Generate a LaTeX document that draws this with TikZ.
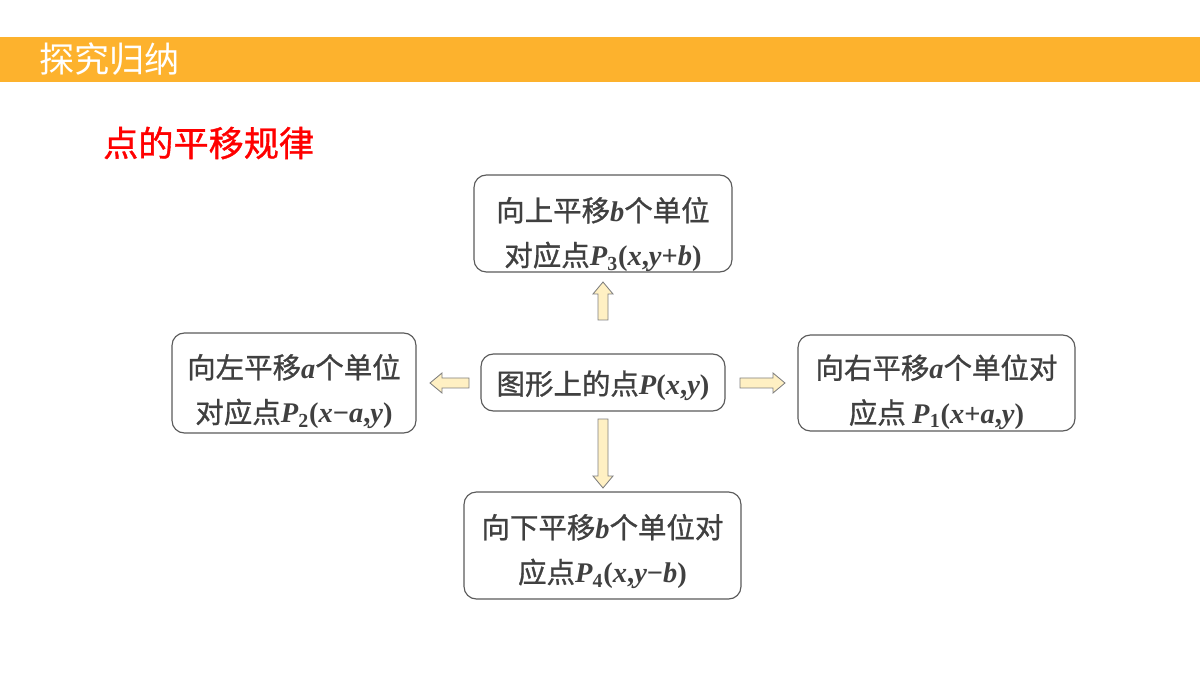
\documentclass[tikz,border=0pt]{standalone}
\usepackage{fontspec}
\setmainfont{Liberation Serif}
\newfontfamily\cjk{Noto Sans CJK SC}
\newfontfamily\cjkb[FakeBold=1]{Noto Sans CJK SC}
\newcommand{\latn}[1]{{\normalfont\bfseries#1}}
\newcommand{\iv}[1]{\textit{#1}}
% lines of a box, lowered by #1 without changing the box size
\newcommand{\boxlines}[2]{\raisebox{#1}[\height][\depth]{\begin{tabular}{@{}c@{}}#2\end{tabular}}}
\begin{document}
\begin{tikzpicture}[x=0.02cm,y=-0.02cm,
 box/.style={draw=boxline,line width=0.65pt,rounded corners=7pt,fill=white,inner sep=0pt,
  font=\cjkb\fontsize{16.2}{25.5}\selectfont,text=textgray},
 fat/.style={draw=arrowline,line width=0.5pt,fill=arrowfill,line join=miter}]
\definecolor{bar}{RGB}{253,178,45}
\definecolor{boxline}{RGB}{90,90,90}
\definecolor{textgray}{RGB}{64,64,64}
\definecolor{arrowfill}{RGB}{255,240,195}
\definecolor{arrowline}{RGB}{128,128,128}
\useasboundingbox (0,0) rectangle (1200,675);
\fill[bar] (0,37) rectangle (1200,82);
\node[anchor=west,text=white,font=\cjk\fontsize{20}{24}\selectfont] (head) at (33,59) {探究归纳};
\node[anchor=west,text=red,font=\cjkb\fontsize{20}{24}\selectfont] (title) at (97,143) {点的平移规律};
% the point and its four translations
\node[box,minimum width=4.88cm,minimum height=1.14cm] (p) at (603,382.5)
 {\boxlines{-0.06cm}{图形上的点\latn{\iv{P}(\iv{x},\iv{y})}}};
\node[box,minimum width=5.16cm,minimum height=1.94cm] (up) at (603,223.5)
 {\boxlines{-0.22cm}{向上平移\latn{\iv{b}}个单位\\对应点\latn{\iv{P}\textsubscript{3}(\iv{x},\iv{y}+\iv{b})}}};
\node[box,minimum width=4.88cm,minimum height=2cm] (left) at (294,383)
 {\boxlines{-0.17cm}{向左平移\latn{\iv{a}}个单位\\对应点\latn{\iv{P}\textsubscript{2}(\iv{x}−\iv{a},\iv{y})}}};
\node[box,minimum width=5.54cm,minimum height=1.92cm] (right) at (936.5,383)
 {\boxlines{-0.18cm}{向右平移\latn{\iv{a}}个单位对\\应点 \latn{\iv{P}\textsubscript{1}(\iv{x}+\iv{a},\iv{y})}}};
\node[box,minimum width=5.54cm,minimum height=2.14cm] (down) at (602.5,545.5)
 {\boxlines{-0.12cm}{向下平移\latn{\iv{b}}个单位对\\应点\latn{\iv{P}\textsubscript{4}(\iv{x},\iv{y}−\iv{b})}}};
% block arrows: tail x/y, direction, length
\foreach \tx/\ty/\dir/\len in {603/320/90/38,603/419/-90/69,469/383/180/39,740/383/0/45}{
 \draw[fat,shift={(\tx,\ty)},rotate=\dir] (0,-5)--(\len-12,-5)--(\len-12,-10)--(\len,0)
  --(\len-12,10)--(\len-12,5)--(0,5)--cycle;
}
\end{tikzpicture}
\end{document}
